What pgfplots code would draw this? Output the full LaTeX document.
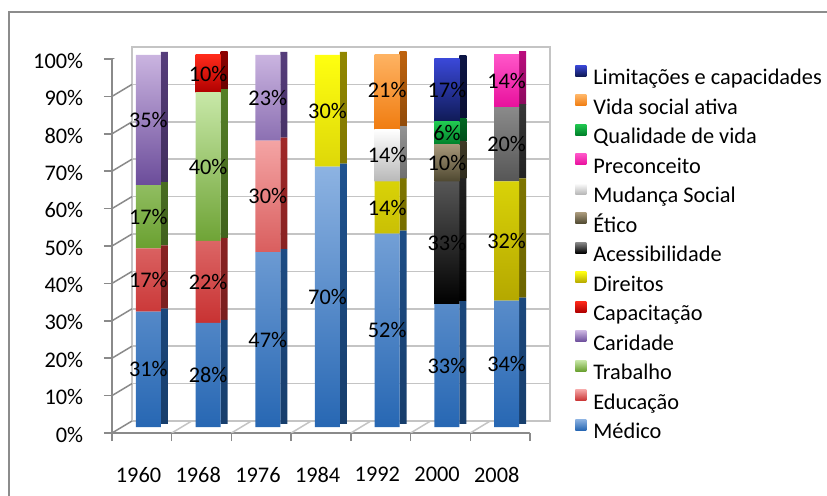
\documentclass[border=0pt]{standalone}
\usepackage{pgfplots}
\pgfplotsset{compat=1.18}
\usepackage{fontspec}
\setmainfont{Carlito}
\definecolor{frame}{HTML}{8C8C8C}
\definecolor{gridc}{HTML}{C4C4C4}
\definecolor{axc}{HTML}{8A8A8A}
\definecolor{medT}{HTML}{8DB3E2}\definecolor{medB}{HTML}{2767B3}
\definecolor{eduT}{HTML}{F4A4A4}\definecolor{eduB}{HTML}{C83232}
\definecolor{traT}{HTML}{C8E8A8}\definecolor{traB}{HTML}{6AA030}
\definecolor{carT}{HTML}{CAB4E0}\definecolor{carB}{HTML}{6B4C9A}
\definecolor{capT}{HTML}{FF2A1A}\definecolor{capB}{HTML}{B00000}
\definecolor{dirT}{HTML}{FFFF10}\definecolor{dirB}{HTML}{B5A800}
\definecolor{aceT}{HTML}{8A8A8A}\definecolor{aceB}{HTML}{000000}
\definecolor{etiT}{HTML}{A8987A}\definecolor{etiB}{HTML}{4E4830}
\definecolor{mudT}{HTML}{FFFFFF}\definecolor{mudB}{HTML}{B8B8B8}
\definecolor{preT}{HTML}{FF55C8}\definecolor{preB}{HTML}{E8109C}
\definecolor{quaT}{HTML}{20C850}\definecolor{quaB}{HTML}{00802A}
\definecolor{vidT}{HTML}{FFB566}\definecolor{vidB}{HTML}{F07C10}
\definecolor{limT}{HTML}{3A48D8}\definecolor{limB}{HTML}{0F1A55}
\tikzset{lblfont/.style={font=\fontsize{13.4}{16}\selectfont}}
\pgfplotsset{
  geom/.style={scale only axis, anchor=south west, width=250.8pt,
    xmin=-0.5, xmax=6.5, ymin=0, ymax=100},
  seg/.style 2 args={draw=none, top color=#1, bottom color=#2},
}
\begin{document}
\begin{tikzpicture}
\draw[frame, line width=1.2pt] (5.4pt,-6pt) -- (5.4pt,290.4pt) -- (504pt,290.4pt);

% back wall
\begin{axis}[geom, at={(79.2pt,45pt)}, height=224.4pt,
  ytick={0,10,...,100}, xtick=\empty, yticklabels={}, major tick length=0pt,
  ymajorgrids, grid style={gridc, line width=0.9pt},
  axis line style={gridc, line width=0.9pt}]
\end{axis}

% front frame, ticks and labels
\begin{axis}[geom, at={(67.2pt,37.8pt)}, height=224.4pt,
  axis x line*=bottom, axis y line*=left,
  axis line style={axc, line width=0.9pt},
  tick style={axc, line width=0.9pt}, tick align=outside,
  major tick length=4.8pt,
  ytick={0,10,...,100},
  yticklabel={\pgfmathprintnumber{\tick}\%},
  /pgf/number format/assume math mode=true,
  tick label style={lblfont},
  xtick={-0.5,0.5,...,6.5}, xticklabels={},
  extra x ticks={0,1,2,3,4,5,6},
  extra x tick labels={1960,1968,1976,1984,1992,2000,2008},
  extra x tick style={major tick length=0pt, xticklabel style={yshift=-17pt, xshift=-2pt}},
  yticklabel style={xshift=-9pt, yshift=-1pt}]
\pgfplotsinvokeforeach{0,10,20,30,40,50,60,70,80,90,100}{
  \draw[axc, line width=0.9pt] (axis cs:-0.5,#1) -- ++(12pt,7.2pt);}
\pgfplotsinvokeforeach{0.5,1.5,2.5,3.5,4.5,5.5,6.5}{
  \draw[gridc, line width=0.9pt] (axis cs:#1,0) -- ++(12pt,7.2pt);}
\end{axis}

% side faces
\begin{axis}[geom, at={(67.2pt,43.2pt)}, height=223.2pt, hide axis,
  ybar stacked, bar width=4.2pt, bar shift=13.5pt]
\addplot[seg={medB!80!black}{medB!60!black}] coordinates {(0,31) (1,28) (2,47) (3,70) (4,52) (5,33) (6,34)};
\addplot[seg={eduB!80!black}{eduB!60!black}] coordinates {(0,17) (1,22) (2,30) (3,0) (4,0) (5,0) (6,0)};
\addplot[seg={traB!80!black}{traB!60!black}] coordinates {(0,17) (1,40) (2,0) (3,0) (4,0) (5,0) (6,0)};
\addplot[seg={carB!80!black}{carB!60!black}] coordinates {(0,35) (1,0) (2,23) (3,0) (4,0) (5,0) (6,0)};
\addplot[seg={capB!80!black}{capB!60!black}] coordinates {(0,0) (1,10) (2,0) (3,0) (4,0) (5,0) (6,0)};
\addplot[seg={dirB!80!black}{dirB!60!black}] coordinates {(0,0) (1,0) (2,0) (3,30) (4,14) (5,0) (6,32)};
\addplot[seg={aceT!40!black}{aceB}] coordinates {(0,0) (1,0) (2,0) (3,0) (4,0) (5,33) (6,20)};
\addplot[seg={etiB!80!black}{etiB!60!black}] coordinates {(0,0) (1,0) (2,0) (3,0) (4,0) (5,10) (6,0)};
\addplot[seg={mudB!80!black}{mudB!60!black}] coordinates {(0,0) (1,0) (2,0) (3,0) (4,14) (5,0) (6,0)};
\addplot[seg={preB!80!black}{preB!60!black}] coordinates {(0,0) (1,0) (2,0) (3,0) (4,0) (5,0) (6,14)};
\addplot[seg={quaB!80!black}{quaB!60!black}] coordinates {(0,0) (1,0) (2,0) (3,0) (4,0) (5,6) (6,0)};
\addplot[seg={vidB!80!black}{vidB!60!black}] coordinates {(0,0) (1,0) (2,0) (3,0) (4,21) (5,0) (6,0)};
\addplot[seg={limB!80!black}{limB!60!black}] coordinates {(0,0) (1,0) (2,0) (3,0) (4,0) (5,17) (6,0)};
\end{axis}

% front faces
\begin{axis}[geom, at={(67.2pt,41.4pt)}, height=223.2pt, hide axis,
  ybar stacked, bar width=15pt, bar shift=3.9pt,
  reverse legend, legend cell align=left,
  legend image code/.code={\path[#1, draw=none] (0pt,1.8pt) rectangle (6.6pt,8.4pt);},
  legend style={at={(1.1077,0.9736)}, anchor=north west, draw=none, fill=none,
    lblfont, row sep=3.05pt, column sep=4.2pt, inner sep=0pt,
    nodes={inner sep=0pt, text height=9.5pt, text depth=3pt}}]
\addplot[seg={medT}{medB}] coordinates {(0,31) (1,28) (2,47) (3,70) (4,52) (5,33) (6,34)};
\addlegendentry{Médico}
\addplot[seg={eduT}{eduB}] coordinates {(0,17) (1,22) (2,30) (3,0) (4,0) (5,0) (6,0)};
\addlegendentry{Educação}
\addplot[seg={traT}{traB}] coordinates {(0,17) (1,40) (2,0) (3,0) (4,0) (5,0) (6,0)};
\addlegendentry{Trabalho}
\addplot[seg={carT}{carB}] coordinates {(0,35) (1,0) (2,23) (3,0) (4,0) (5,0) (6,0)};
\addlegendentry{Caridade}
\addplot[seg={capT}{capB}] coordinates {(0,0) (1,10) (2,0) (3,0) (4,0) (5,0) (6,0)};
\addlegendentry{Capacitação}
\addplot[seg={dirT}{dirB}] coordinates {(0,0) (1,0) (2,0) (3,30) (4,14) (5,0) (6,32)};
\addlegendentry{Direitos}
\addplot[seg={aceT}{aceB}] coordinates {(0,0) (1,0) (2,0) (3,0) (4,0) (5,33) (6,20)};
\addlegendentry{Acessibilidade}
\addplot[seg={etiT}{etiB}] coordinates {(0,0) (1,0) (2,0) (3,0) (4,0) (5,10) (6,0)};
\addlegendentry{Ético}
\addplot[seg={mudT}{mudB}] coordinates {(0,0) (1,0) (2,0) (3,0) (4,14) (5,0) (6,0)};
\addlegendentry{Mudança Social}
\addplot[seg={preT}{preB}] coordinates {(0,0) (1,0) (2,0) (3,0) (4,0) (5,0) (6,14)};
\addlegendentry{Preconceito}
\addplot[seg={quaT}{quaB}] coordinates {(0,0) (1,0) (2,0) (3,0) (4,0) (5,6) (6,0)};
\addlegendentry{Qualidade de vida}
\addplot[seg={vidT}{vidB}] coordinates {(0,0) (1,0) (2,0) (3,0) (4,21) (5,0) (6,0)};
\addlegendentry{Vida social ativa}
\addplot[seg={limT}{limB}] coordinates {(0,0) (1,0) (2,0) (3,0) (4,0) (5,17) (6,0)};
\addlegendentry{Limitações e capacidades}
\end{axis}

% value labels
\begin{axis}[geom, at={(67.2pt,41.4pt)}, height=223.2pt, hide axis,
  point meta=explicit symbolic,
  nodes near coords={\pgfplotspointmeta\%},
  every node near coord/.style={anchor=center, xshift=3.9pt, lblfont, text=black}]
\addplot[draw=none, mark=none] table[meta=v] {
x y v
0 15.5 31
0 39.5 17
0 56.5 17
0 82.5 35
1 14 28
1 39 22
1 70 40
1 95 10
2 23.5 47
2 62 30
2 88.5 23
3 35 70
3 85 30
4 26 52
4 59 14
4 73 14
4 90.5 21
5 16.5 33
5 49.5 33
5 71 10
5 79 6
5 90.5 17
6 17 34
6 50 32
6 76 20
6 93 14
};
\end{axis}
\pgfresetboundingbox
\useasboundingbox (0pt,0pt) rectangle (496.2pt,297.6pt);
\end{tikzpicture}
\end{document}
